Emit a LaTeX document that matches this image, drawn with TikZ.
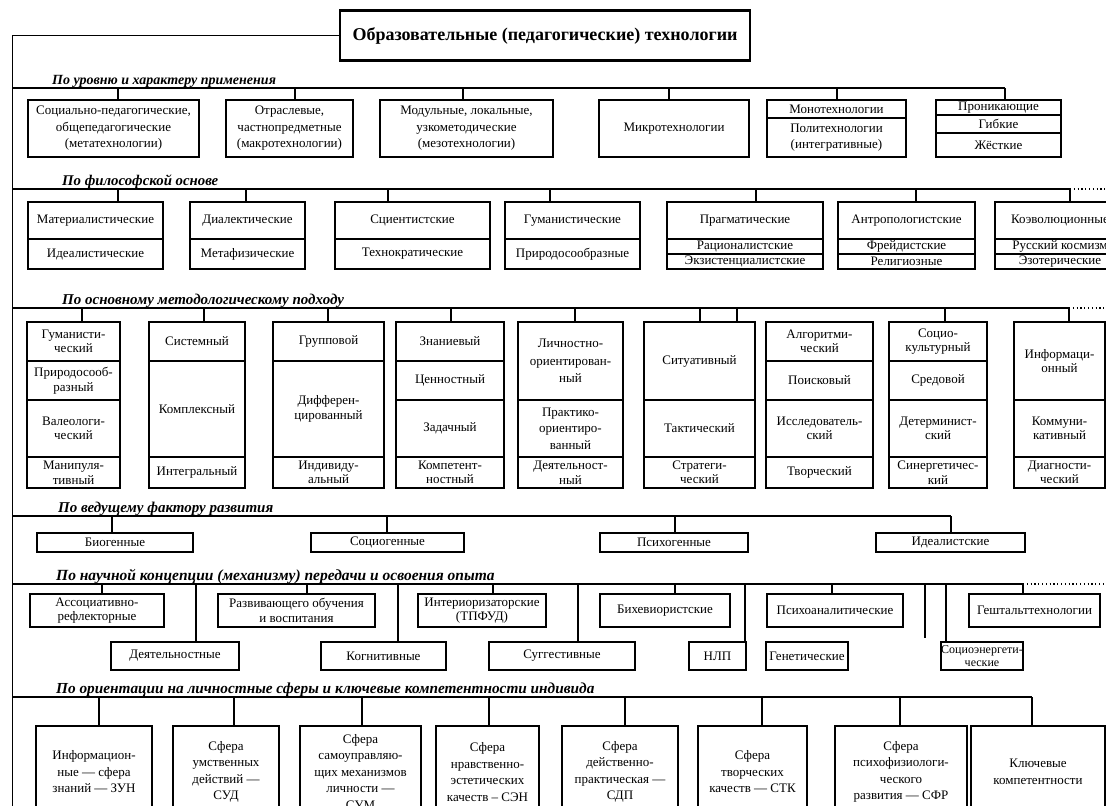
\documentclass[tikz,border=0pt]{standalone}
\usepackage{fontspec}
\setmainfont{Liberation Serif}
\newcommand\bodyfnt{\fontsize{13}{14.5}\selectfont}
\newcommand\titlefnt{\fontsize{18}{20}\selectfont\bfseries}
% cell: [label options]{name}{x1}{y1}{x2}{y2}{text}
\newcommand\cellat[7][]{\node[bx,anchor=north west,minimum width={(#5)-(#3)},minimum height={(#6)-(#4)},label={[txt,#1]center:{#7}}] (#2) at (#3,#4) {};}
% tick from a point on a category line down to the top of a node
\newcommand\tickto[3]{\coordinate (#1) at (#2); \draw[ln] (#1) -- (#1 |- #3.north);}
\begin{document}
\begin{tikzpicture}[x=1pt,y=-1pt,
  ln/.style={line width=1.3pt},
  bx/.style={draw,line width=1.3pt,inner sep=0pt,outer sep=0pt},
  txt/.style={align=center,font=\bodyfnt,inner sep=0pt},
  tall/.style={font=\fontsize{13}{16.5}\selectfont},
  roomy/.style={font=\fontsize{13}{17.5}\selectfont},
  narrow/.style={font=\fontsize{12}{13.5}\selectfont},
  head/.style={inner sep=0pt,anchor=base west},
  hsize/.style={font=\fontsize{#1}{16}\selectfont\bfseries\itshape},
  dots/.style={line width=1.3pt,dash pattern=on 1.2pt off 2.6pt}]
\useasboundingbox (0,0) rectangle (1106,806);
\clip (0,0) rectangle (1106,806);

% root
\node[draw,line width=2.2pt,minimum width=410,minimum height=50,font=\titlefnt] (title) at (545,35.5) {Образовательные (педагогические) технологии};
\coordinate (sptop) at (12.5,35.5);
\coordinate (spbot) at (12.5,806);
\draw[ln] (title.west) -- (sptop) -- (spbot);

% 1. level and character of application
\node[head,hsize=14] (h1) at (52,84) {По уровню и характеру применения};
\coordinate (h1a) at (12.5,88); \coordinate (h1b) at (1005,88);
\draw[ln] (h1a) -- (h1b);
\cellat[tall]{a1}{28}{100}{199}{157}{Социально-педагогические,\\общепедагогические\\(метатехнологии)}
\cellat[tall]{a2}{226}{100}{353}{157}{Отраслевые,\\частнопредметные\\(макротехнологии)}
\cellat[tall]{a3}{380}{100}{553}{157}{Модульные, локальные,\\узкометодические\\(мезотехнологии)}
\cellat{a4}{599}{100}{749}{157}{Микротехнологии}
\cellat{a5}{767}{100}{906}{118}{Монотехнологии}
\cellat[tall]{a5b}{767}{118}{906}{157}{Политехнологии\\(интегративные)}
\cellat{a6}{936}{100}{1061}{115}{Проникающие}
\cellat{a6b}{936}{115}{1061}{133}{Гибкие}
\cellat{a6c}{936}{133}{1061}{157}{Жёсткие}
\tickto{ta1}{118,88}{a1}
\tickto{ta2}{295,88}{a2}
\tickto{ta3}{463,88}{a3}
\tickto{ta4}{669,88}{a4}
\tickto{ta5}{837,88}{a5}
\tickto{ta6}{1005,88}{a6}

% 2. philosophical basis
\node[head,hsize=14.8] (h2) at (62,185) {По философской основе};
\coordinate (h2a) at (12.5,189); \coordinate (h2b) at (1070,189); \coordinate (h2c) at (1106,189);
\draw[ln] (h2a) -- (h2b);
\draw[dots] (h2b) -- (h2c);
\cellat{b1}{28}{202}{163}{239}{Материалистические}
\cellat{b1b}{28}{239}{163}{269}{Идеалистические}
\cellat{b2}{190}{202}{305}{239}{Диалектические}
\cellat{b2b}{190}{239}{305}{269}{Метафизические}
\cellat{b3}{335}{202}{490}{239}{Сциентистские}
\cellat{b3b}{335}{239}{490}{269}{Технократические}
\cellat{b4}{505}{202}{640}{239}{Гуманистические}
\cellat{b4b}{505}{239}{640}{269}{Природосообразные}
\cellat{b5}{667}{202}{823}{239}{Прагматические}
\cellat{b5b}{667}{239}{823}{254}{Рационалистские}
\cellat{b5c}{667}{254}{823}{269}{Экзистенциалистские}
\cellat{b6}{838}{202}{975}{239}{Антропологистские}
\cellat{b6b}{838}{239}{975}{254}{Фрейдистские}
\cellat{b6c}{838}{254}{975}{269}{Религиозные}
\cellat{b7}{995}{202}{1125}{239}{Коэволюционные}
\cellat{b7b}{995}{239}{1125}{254}{Русский космизм}
\cellat{b7c}{995}{254}{1125}{269}{Эзотерические}
\tickto{tb1}{118,189}{b1}
\tickto{tb2}{246,189}{b2}
\tickto{tb3}{388,189}{b3}
\tickto{tb4}{550,189}{b4}
\tickto{tb5}{756,189}{b5}
\tickto{tb6}{916,189}{b6}
\tickto{tb7}{1070,189}{b7}

% 3. main methodological approach
\node[head,hsize=15] (h3) at (62,304) {По основному методологическому подходу};
\coordinate (h3a) at (12.5,308); \coordinate (h3b) at (1069,308); \coordinate (h3c) at (1106,308);
\draw[ln] (h3a) -- (h3b);
\draw[dots] (h3b) -- (h3c);
\cellat{d1}{27}{322}{120}{361}{Гуманисти-\\ческий}
\cellat{d1b}{27}{361}{120}{400}{Природосооб-\\разный}
\cellat{d1c}{27}{400}{120}{457}{Валеологи-\\ческий}
\cellat{d1d}{27}{457}{120}{488}{Манипуля-\\тивный}
\cellat{d2}{149}{322}{245}{361}{Системный}
\cellat{d2b}{149}{361}{245}{457}{Комплексный}
\cellat{d2c}{149}{457}{245}{488}{Интегральный}
\cellat{d3}{273}{322}{384}{361}{Групповой}
\cellat{d3b}{273}{361}{384}{457}{Дифферен-\\цированный}
\cellat{d3c}{273}{457}{384}{488}{Индивиду-\\альный}
\cellat{d4}{396}{322}{504}{361}{Знаниевый}
\cellat{d4b}{396}{361}{504}{400}{Ценностный}
\cellat{d4c}{396}{400}{504}{457}{Задачный}
\cellat{d4d}{396}{457}{504}{488}{Компетент-\\ностный}
\cellat[roomy]{d5}{518}{322}{623}{400}{Личностно-\\ориентирован-\\ный}
\cellat[tall]{d5b}{518}{400}{623}{457}{Практико-\\ориентиро-\\ванный}
\cellat{d5c}{518}{457}{623}{488}{Деятельност-\\ный}
\cellat{d6}{644}{322}{755}{400}{Ситуативный}
\cellat{d6b}{644}{400}{755}{457}{Тактический}
\cellat{d6c}{644}{457}{755}{488}{Стратеги-\\ческий}
\cellat{d7}{766}{322}{873}{361}{Алгоритми-\\ческий}
\cellat{d7b}{766}{361}{873}{400}{Поисковый}
\cellat{d7c}{766}{400}{873}{457}{Исследователь-\\ский}
\cellat{d7d}{766}{457}{873}{488}{Творческий}
\cellat{d8}{889}{322}{987}{361}{Социо-\\культурный}
\cellat{d8b}{889}{361}{987}{400}{Средовой}
\cellat{d8c}{889}{400}{987}{457}{Детерминист-\\ский}
\cellat{d8d}{889}{457}{987}{488}{Синергетичес-\\кий}
\cellat{d9}{1014}{322}{1105}{400}{Информаци-\\онный}
\cellat{d9b}{1014}{400}{1105}{457}{Коммуни-\\кативный}
\cellat{d9c}{1014}{457}{1105}{488}{Диагности-\\ческий}
\tickto{td1}{82,308}{d1}
\tickto{td2}{204,308}{d2}
\tickto{td3}{328,308}{d3}
\tickto{td4}{451,308}{d4}
\tickto{td5}{575,308}{d5}
\tickto{td6}{700,308}{d6}
\tickto{td6x}{737,308}{d6}
\tickto{td8}{945,308}{d8}
\tickto{td9}{1069,308}{d9}

% 4. leading factor of development
\node[head,hsize=15] (h4) at (58,512) {По ведущему фактору развития};
\coordinate (h4a) at (12.5,516); \coordinate (h4b) at (951,516);
\draw[ln] (h4a) -- (h4b);
\cellat{e1}{37}{533}{193}{552}{Биогенные}
\cellat{e2}{311}{533}{464}{552}{Социогенные}
\cellat{e3}{600}{533}{748}{552}{Психогенные}
\cellat{e4}{876}{533}{1025}{552}{Идеалистские}
\tickto{te1}{112,516}{e1}
\tickto{te2}{387,516}{e2}
\tickto{te3}{675,516}{e3}
\tickto{te4}{951,516}{e4}

% 5. scientific concept of passing on and mastering experience
\node[head,hsize=15.5] (h5) at (56,580) {По научной концепции (механизму) передачи и освоения опыта};
\coordinate (h5a) at (12.5,584); \coordinate (h5b) at (1023,584); \coordinate (h5c) at (1106,584);
\draw[ln] (h5a) -- (h5b);
\draw[dots] (h5b) -- (h5c);
\cellat{f1}{30}{594}{164}{627}{Ассоциативно-\\рефлекторные}
\cellat{f2}{218}{594}{375}{627}{Развивающего обучения\\и воспитания}
\cellat{f3}{418}{594}{546}{627}{Интериоризаторские\\(ТПФУД)}
\cellat{f4}{600}{594}{730}{627}{Бихевиористские}
\cellat{f5}{767}{594}{903}{627}{Психоаналитические}
\cellat{f6}{969}{594}{1100}{627}{Гештальттехнологии}
\cellat{g1}{111}{642}{239}{670}{Деятельностные}
\cellat{g2}{321}{642}{446}{670}{Когнитивные}
\cellat{g3}{489}{642}{635}{670}{Суггестивные}
\cellat{g4}{689}{642}{746}{670}{НЛП}
\cellat{g5}{766}{642}{848}{670}{Генетические}
\cellat[narrow]{g6}{941}{642}{1023}{670}{Социоэнергети-\\ческие}
\tickto{tf1}{102,584}{f1}
\tickto{tf2}{307,584}{f2}
\tickto{tf3}{493,584}{f3}
\tickto{tf4}{675,584}{f4}
\tickto{tf5}{832,584}{f5}
\tickto{tf6}{1023,584}{f6}
\tickto{tg1}{196,584}{g1}
\tickto{tg2}{398,584}{g2}
\tickto{tg3}{578,584}{g3}
\tickto{tg4}{745,584}{g4}
\tickto{tg6}{946,584}{g6}
\coordinate (tgx) at (925,584); \coordinate (tgxe) at (925,638);
\draw[ln] (tgx) -- (tgxe);

% 6. personality spheres and key competences
\node[head,hsize=15.3] (h6) at (56,693) {По ориентации на личностные сферы и ключевые компетентности индивида};
\coordinate (h6a) at (12.5,697); \coordinate (h6b) at (1032,697);
\draw[ln] (h6a) -- (h6b);
\cellat[tall]{k1}{36}{726}{152}{818}{Информацион-\\ные — сфера\\знаний — ЗУН}
\cellat[tall]{k2}{173}{726}{279}{818}{Сфера\\умственных\\действий —\\СУД}
\cellat[tall]{k3}{300}{726}{421}{818}{Сфера\\самоуправляю-\\щих механизмов\\личности —\\СУМ}
\cellat[tall]{k4}{436}{726}{539}{818}{Сфера\\нравственно-\\эстетических\\качеств – СЭН}
\cellat[tall]{k5}{562}{726}{678}{818}{Сфера\\действенно-\\практическая —\\СДП}
\cellat[tall]{k6}{698}{726}{807}{818}{Сфера\\творческих\\качеств — СТК}
\cellat[tall]{k7}{835}{726}{967}{818}{Сфера\\психофизиологи-\\ческого\\развития — СФР}
\cellat[tall]{k8}{971}{726}{1105}{818}{Ключевые\\компетентности}
\tickto{tk1}{99,697}{k1}
\tickto{tk2}{234,697}{k2}
\tickto{tk3}{362,697}{k3}
\tickto{tk4}{489,697}{k4}
\tickto{tk5}{625,697}{k5}
\tickto{tk6}{762,697}{k6}
\tickto{tk7}{900,697}{k7}
\tickto{tk8}{1032,697}{k8}
\end{tikzpicture}
\end{document}
